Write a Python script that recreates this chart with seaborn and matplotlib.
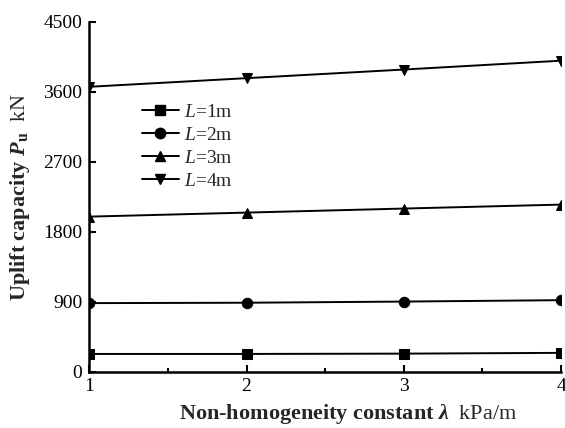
import matplotlib
matplotlib.use("Agg")
import matplotlib.pyplot as plt
import seaborn as sns
import pandas as pd
from matplotlib.ticker import MultipleLocator
from matplotlib.lines import Line2D

lam = [1, 2, 3, 4]
p_L1 = [226, 226, 230, 240]
p_L2 = [880, 885, 900, 918]
p_L3 = [1993, 2045, 2097, 2148]
p_L4 = [3664, 3775, 3886, 4000]
labels = ["L=1m", "L=2m", "L=3m", "L=4m"]
series = [p_L1, p_L2, p_L3, p_L4]

rows = []
for lab, vals in zip(labels, series):
    for x, v in zip(lam, vals):
        rows.append({"lam": x, "P": v, "L": lab})
df = pd.DataFrame(rows)

sns.set_theme(style="ticks")
plt.rcParams["font.family"] = ["Liberation Serif", "DejaVu Serif"]
plt.rcParams["mathtext.fontset"] = "custom"
plt.rcParams["mathtext.rm"] = "Liberation Serif"
plt.rcParams["mathtext.it"] = "Liberation Serif:italic"
plt.rcParams["mathtext.bf"] = "Liberation Serif:bold"
plt.rcParams["mathtext.bfit"] = "Liberation Serif:bold:italic"

fig = plt.figure(figsize=(5.65, 4.28), dpi=100)
ax = fig.add_axes([0.158, 0.132, 0.835, 0.817])

sns.lineplot(data=df, x="lam", y="P", style="L", markers=["s", "o", "^", "v"],
             dashes=False, color="black", linewidth=1.4, markersize=7.5,
             markeredgecolor="black", ax=ax, legend=False)

ax.set_xlim(1, 4)
ax.set_ylim(0, 4500)
ax.xaxis.set_major_locator(MultipleLocator(1))
ax.xaxis.set_minor_locator(MultipleLocator(0.5))
ax.yaxis.set_major_locator(MultipleLocator(900))
ax.tick_params(axis="both", which="both", direction="in", labelsize=14,
               width=1.5, colors="black")
ax.tick_params(axis="both", which="major", length=5, pad=5)
ax.tick_params(axis="x", which="minor", length=3)
sns.despine(ax=ax)
for s in ["left", "bottom"]:
    ax.spines[s].set_linewidth(1.8)
    ax.spines[s].set_color("black")

ax.set_xlabel(r"$\mathbf{Non\text{-}homogeneity\ constant}\ \mathbfit{\lambda}\ \ \mathrm{kPa/m}$",
              fontsize=16, labelpad=5, x=0.549)
ax.set_ylabel(r"$\mathbf{Uplift\ capacity}\ \mathbfit{P}_{\mathbf{u}}\ \ \mathrm{kN}$",
              fontsize=16, labelpad=8)

handles = [Line2D([], [], color="black", marker=m, markersize=7.5, linewidth=1.4)
           for m in ["s", "o", "^", "v"]]
leg_labels = [r"$\mathit{L}$=1m", r"$\mathit{L}$=2m", r"$\mathit{L}$=3m", r"$\mathit{L}$=4m"]
ax.legend(handles, leg_labels, loc="upper left", bbox_to_anchor=(0.095, 0.79),
          frameon=False, fontsize=14, handlelength=1.9, handletextpad=0.25,
          labelspacing=0.28, borderaxespad=0)

fig.savefig("out.png", dpi=100)
